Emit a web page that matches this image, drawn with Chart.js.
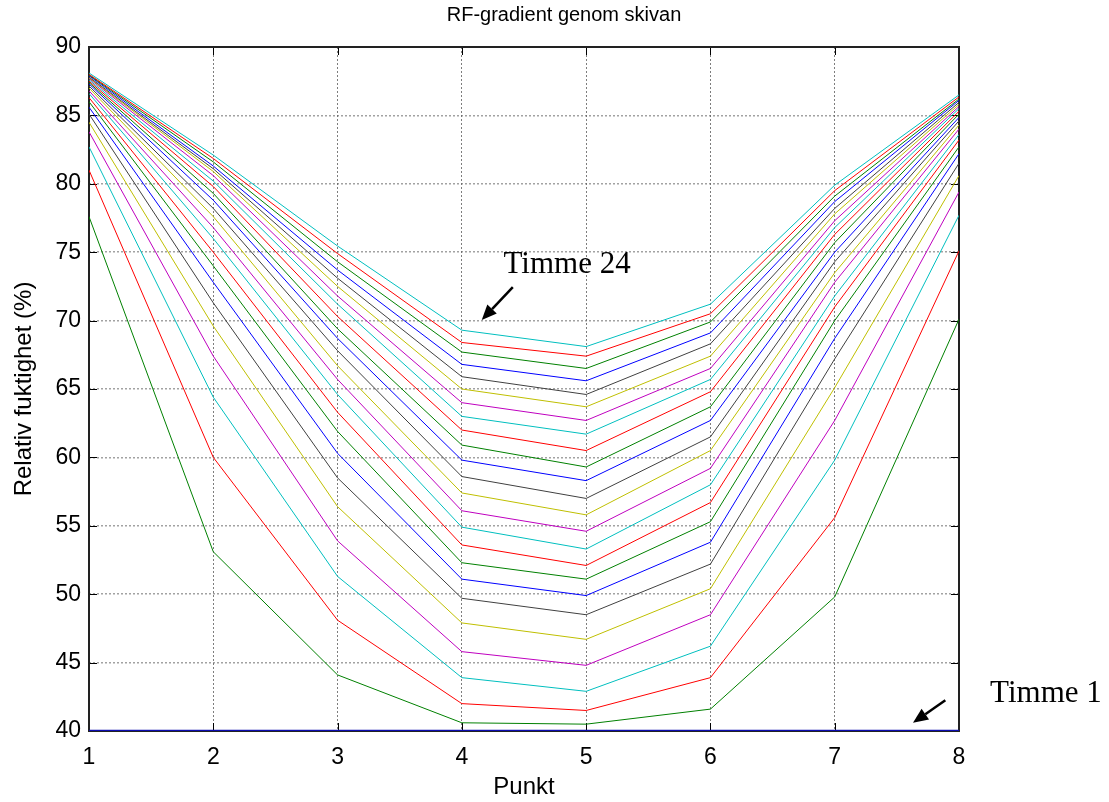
<!DOCTYPE html>
<html lang="sv">
<head>
<meta charset="UTF-8">
<title>RF-gradient genom skivan</title>
<script src="https://cdn.jsdelivr.net/npm/chart.js"></script>
<style>
  html, body { margin: 0; padding: 0; background: #fff; }
</style>
</head>
<body>
<canvas id="rfChart" width="1109" height="802"></canvas>
<script>
// mätpunkter genom skivan
const punkt = [1, 2, 3, 4, 5, 6, 7, 8];
const yTicks = [40, 45, 50, 55, 60, 65, 70, 75, 80, 85, 90];

// relativ fuktighet (%) per timme, en rad per mätpunkt 1..8
const timme0  = [40, 40, 40, 40, 40, 40, 40, 40];
const timme1  = [77.6, 53.1, 44.1, 40.6, 40.5, 41.6, 49.8, 70.1];
const timme2  = [81.0, 60.0, 48.1, 42.0, 41.5, 43.9, 55.6, 75.1];
const timme3  = [82.7, 64.4, 51.3, 43.9, 42.9, 46.2, 59.8, 77.7];
const timme4  = [83.8, 67.4, 53.9, 45.8, 44.8, 48.5, 62.7, 79.4];
const timme5  = [84.5, 69.6, 56.4, 47.9, 46.7, 50.4, 65.1, 80.6];
const timme6  = [85.1, 71.3, 58.5, 49.7, 48.5, 52.2, 67.2, 81.5];
const timme7  = [85.6, 72.8, 60.3, 51.1, 49.9, 53.8, 68.7, 82.2];
const timme8  = [86.0, 74.0, 61.9, 52.3, 51.1, 55.3, 70.0, 82.7];
const timme9  = [86.3, 75.0, 63.3, 53.6, 52.1, 56.7, 71.0, 83.2];
const timme10 = [86.6, 76.0, 64.6, 54.9, 53.3, 58.0, 71.8, 83.6];
const timme11 = [86.8, 76.8, 65.7, 56.1, 54.6, 59.2, 72.8, 84.0];
const timme12 = [87.0, 77.6, 66.7, 57.4, 55.8, 60.5, 73.5, 84.3];
const timme13 = [87.15, 78.2, 67.8, 58.6, 57.0, 61.5, 74.3, 84.6];
const timme14 = [87.3, 78.8, 68.7, 59.8, 58.3, 62.7, 75.0, 84.85];
const timme15 = [87.4, 79.3, 69.4, 60.9, 59.3, 63.7, 75.7, 85.1];
const timme16 = [87.5, 79.8, 70.3, 62.0, 60.5, 64.8, 76.3, 85.3];
const timme17 = [87.6, 80.2, 71.2, 63.0, 61.7, 65.7, 76.8, 85.5];
const timme18 = [87.7, 80.6, 71.8, 64.0, 62.7, 66.5, 77.3, 85.65];
const timme19 = [87.75, 80.9, 72.5, 65.0, 63.7, 67.4, 77.8, 85.8];
const timme20 = [87.8, 81.1, 73.1, 65.9, 64.6, 68.3, 78.2, 85.95];
const timme21 = [87.9, 81.3, 73.7, 66.8, 65.6, 69.1, 78.7, 86.1];
const timme22 = [87.95, 81.6, 74.3, 67.7, 66.5, 69.9, 79.1, 86.2];
const timme23 = [88.0, 81.85, 74.9, 68.4, 67.4, 70.5, 79.5, 86.35];
const timme24 = [88.1, 82.1, 75.45, 69.3, 68.1, 71.2, 79.9, 86.5];

const timmar = [timme0, timme1, timme2, timme3, timme4, timme5, timme6, timme7,
  timme8, timme9, timme10, timme11, timme12, timme13, timme14, timme15, timme16,
  timme17, timme18, timme19, timme20, timme21, timme22, timme23, timme24];

// matlab-färgordningen b g r c m y k
const farger = ['#0000ff', '#008000', '#ff0000', '#00bfbf', '#bf00bf', '#bfbf00', '#404040'];

const datasets = timmar.map((vals, i) => ({
  label: 'Timme ' + i,
  data: vals.map((v, j) => ({ x: punkt[j], y: v })),
  borderColor: i === 0 ? '#0c0cb0' : farger[i % farger.length],
  borderWidth: i === 0 ? 2.5 : 1,
  pointRadius: 0,
  tension: 0,
  fill: false,
  order: 24 - i
}));

// ram, inåtriktade tickmarkeringar, titel och pilar
const matlabRam = {
  id: 'matlabRam',
  beforeDatasetsDraw(chart) {
    const { ctx, chartArea: a, scales } = chart;
    ctx.save();
    ctx.strokeStyle = '#000';
    ctx.lineWidth = 1;
    const len = 8;
    ctx.beginPath();
    scales.y.ticks.forEach(t => {
      const py = Math.round(scales.y.getPixelForValue(t.value)) + 0.5;
      ctx.moveTo(a.left, py); ctx.lineTo(a.left + len, py);
      ctx.moveTo(a.right, py); ctx.lineTo(a.right - len, py);
    });
    scales.x.ticks.forEach(t => {
      const px = Math.round(scales.x.getPixelForValue(t.value)) + 0.5;
      ctx.moveTo(px, a.bottom); ctx.lineTo(px, a.bottom - len);
      ctx.moveTo(px, a.top); ctx.lineTo(px, a.top + len);
    });
    ctx.stroke();
    ctx.lineWidth = 2;
    ctx.strokeStyle = '#222';
    ctx.strokeRect(a.left, a.top, a.right - a.left, a.bottom - a.top);
    ctx.restore();
  },
  afterDraw(chart) {
    const { ctx, chartArea: a, scales } = chart;
    const sx = v => scales.x.getPixelForValue(v);
    const sy = v => scales.y.getPixelForValue(v);
    ctx.save();
    ctx.fillStyle = '#000';
    ctx.font = '20px "Liberation Sans", Arial, sans-serif';
    ctx.textAlign = 'center';
    ctx.textBaseline = 'middle';
    ctx.fillText('RF-gradient genom skivan', (a.left + a.right) / 2 + 40, 15);

    ctx.font = '31px "Liberation Serif", "Times New Roman", serif';
    ctx.textAlign = 'left';
    ctx.textBaseline = 'alphabetic';
    const pilar = [
      { text: 'Timme 24', tx: 4.335, ty: 73.45, from: [4.41, 72.45], to: [4.16, 70.05] },
      { text: 'Timme 1', tx: 8.25, ty: 42.1, from: [7.89, 42.25], to: [7.63, 40.6] }
    ];
    pilar.forEach(p => {
      ctx.fillText(p.text, sx(p.tx), sy(p.ty));
      const x0 = sx(p.from[0]), y0 = sy(p.from[1]);
      const x1 = sx(p.to[0]), y1 = sy(p.to[1]);
      const ang = Math.atan2(y1 - y0, x1 - x0);
      const head = 15, half = 6.5;
      const bx = x1 - head * Math.cos(ang), by = y1 - head * Math.sin(ang);
      ctx.strokeStyle = '#000';
      ctx.lineWidth = 2.5;
      ctx.beginPath();
      ctx.moveTo(x0, y0);
      ctx.lineTo(bx, by);
      ctx.stroke();
      ctx.beginPath();
      ctx.moveTo(x1, y1);
      ctx.lineTo(bx + half * Math.sin(ang), by - half * Math.cos(ang));
      ctx.lineTo(bx - half * Math.sin(ang), by + half * Math.cos(ang));
      ctx.closePath();
      ctx.fill();
    });
    ctx.restore();
  }
};

const tickFont = { family: '"Liberation Sans", Arial, sans-serif', size: 23 };
const titleFont = { family: '"Liberation Sans", Arial, sans-serif', size: 24 };

new Chart(document.getElementById('rfChart'), {
  type: 'line',
  data: { datasets },
  options: {
    responsive: false,
    animation: false,
    layout: { padding: { top: 47, right: 150, left: 0, bottom: 0 } },
    plugins: {
      legend: { display: false },
      tooltip: { enabled: false },
      title: { display: false }
    },
    scales: {
      x: {
        type: 'linear',
        min: 1,
        max: 8,
        afterBuildTicks: s => { s.ticks = punkt.map(v => ({ value: v })); },
        afterFit: s => { s.height = 71; },
        ticks: { color: '#000', font: tickFont, padding: 13, maxRotation: 0 },
        grid: { drawTicks: false, color: 'rgba(70,70,70,0.7)', lineWidth: 1 },
        border: { display: false, dash: [2, 2] },
        title: { display: true, text: 'Punkt', color: '#000', font: titleFont, padding: { top: 2, bottom: 0 } }
      },
      y: {
        min: 40,
        max: 90,
        afterBuildTicks: s => { s.ticks = yTicks.map(v => ({ value: v })); },
        afterFit: s => { s.width = 89; },
        ticks: { color: '#000', font: tickFont, padding: 8 },
        grid: { drawTicks: false, color: 'rgba(100,100,100,0.6)', lineWidth: 1.5 },
        border: { display: false, dash: [2, 2] },
        title: { display: true, text: 'Relativ fuktighet (%)', color: '#000', font: titleFont, padding: { top: 10, bottom: 10 } }
      }
    }
  },
  plugins: [matlabRam]
});
</script>
</body>
</html>
